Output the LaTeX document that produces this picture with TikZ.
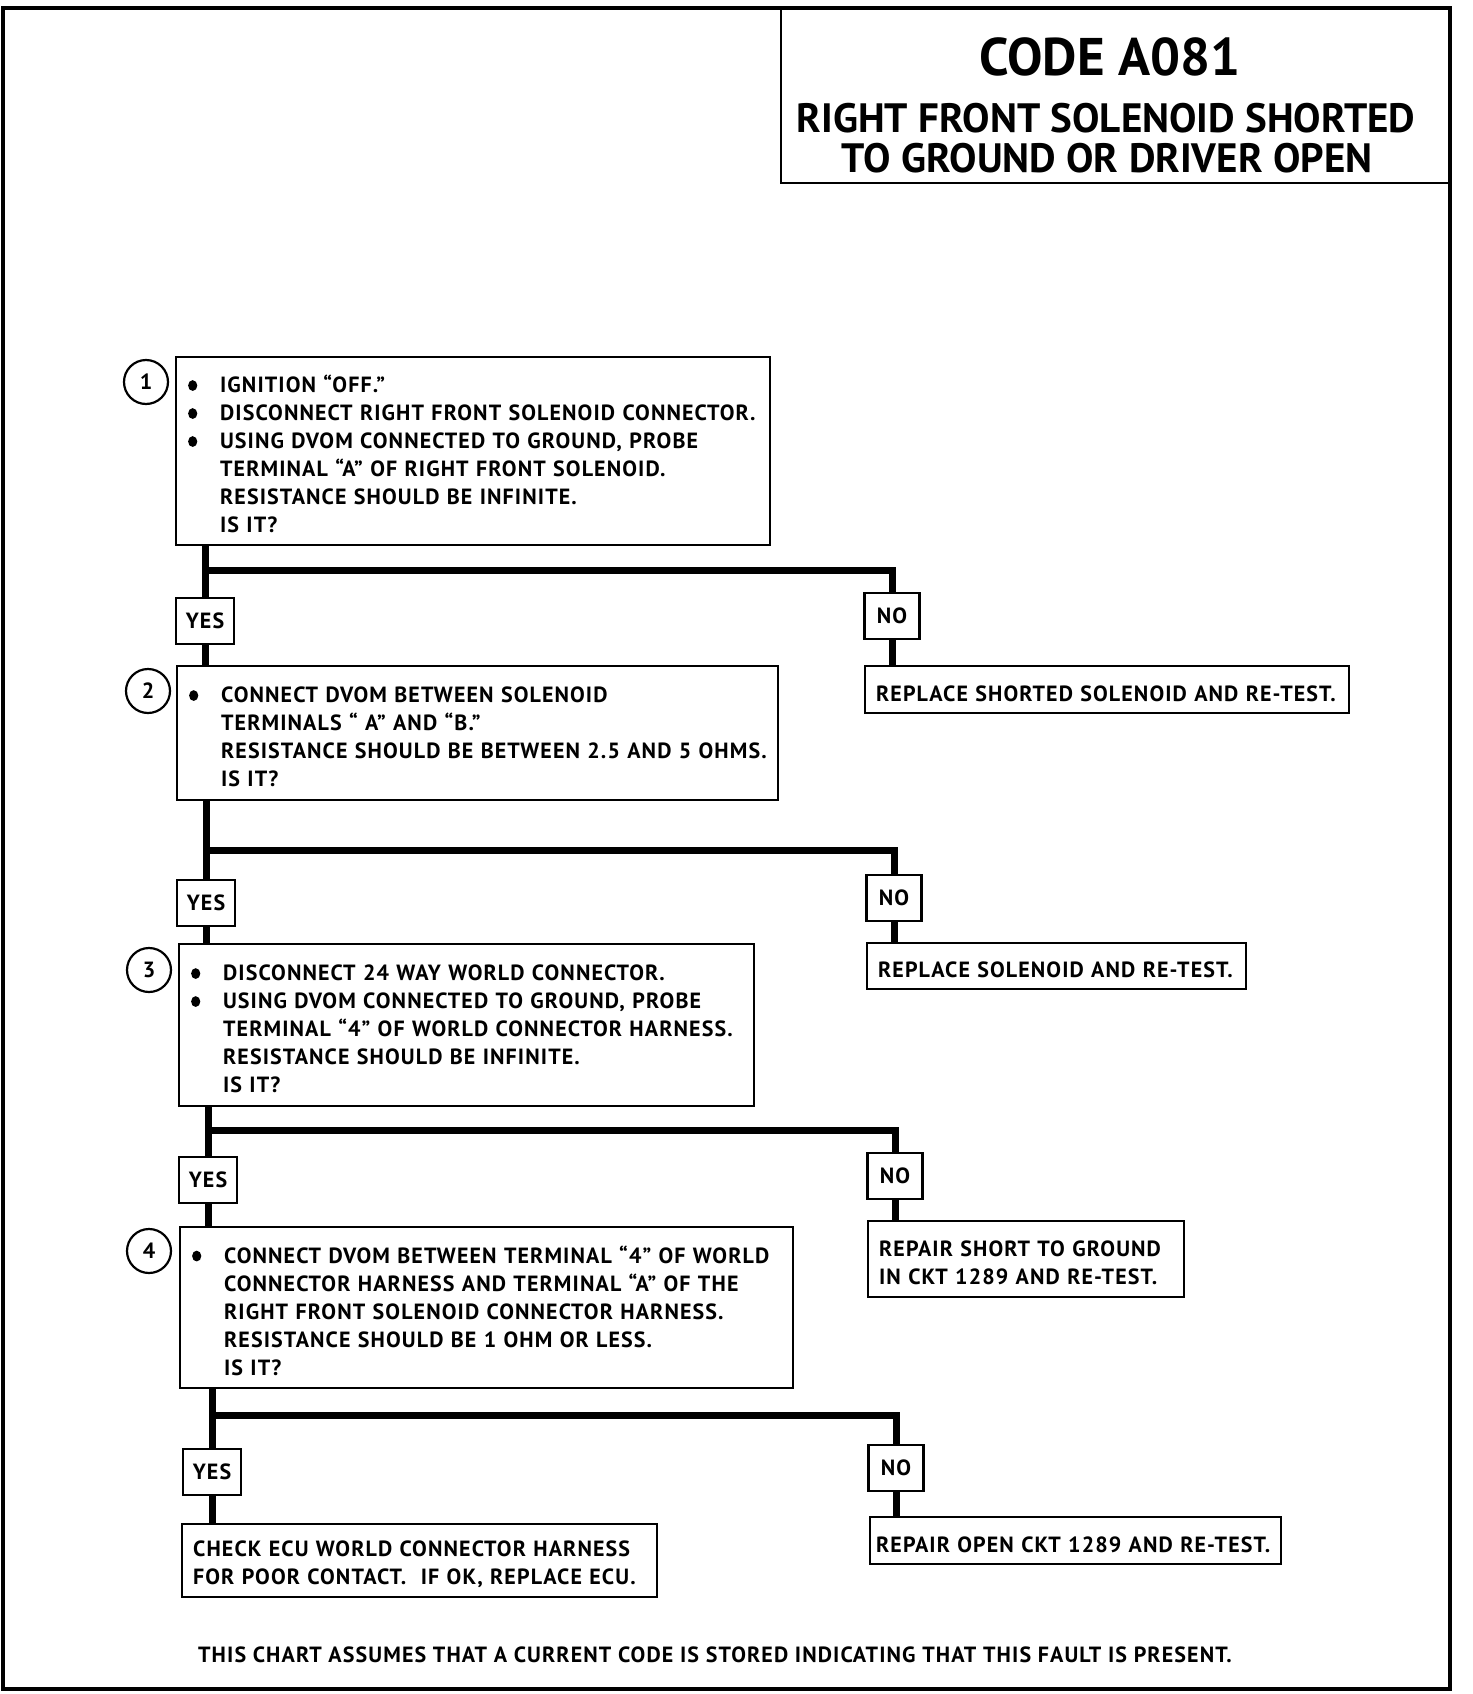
\documentclass[tikz,border=0pt]{standalone}
\usepackage{fontspec}
\setmainfont{PT Sans}
\newfontfamily\chartfont{PT Sans}[LetterSpace=5]
\usetikzlibrary{positioning}
\newcommand\itm{\makebox[33pt][l]{\hspace{1pt}\raisebox{2pt}{\tikz\fill (0,0) ellipse [x radius=4.6pt, y radius=5.4pt];}}}
\newcommand\ind{\hspace*{33pt}}

\begin{document}
\begin{tikzpicture}[x=1pt, y=-1pt,
  stepbox/.style={draw, line width=2.2pt, anchor=north west, align=left, inner xsep=11pt, inner ysep=4pt, font=\chartfont\bfseries\fontsize{22}{28}\selectfont, execute at begin node=\rule{0pt}{24pt}},
  stepnum/.style={draw, circle, line width=2.2pt, minimum size=44pt, inner sep=0pt, font=\bfseries\fontsize{22}{22}\selectfont},
  answer/.style={draw, line width=2.2pt, minimum height=46pt, minimum width=55pt, inner xsep=10pt, font=\chartfont\bfseries\fontsize{22}{22}\selectfont},
  link/.style={line width=7pt}]
\useasboundingbox (0,0) rectangle (1472,1694);
\draw[line width=4.5pt] (3,8) rectangle (1450,1689);

% title
\draw[line width=2.5pt] (781,8) rectangle (1450,183);
\node[anchor=base, font=\bfseries\fontsize{53}{53}\selectfont] (code) at (1110,75) {CODE A081};
\node[anchor=base, font=\bfseries\fontsize{41}{41}\selectfont] (head1) at (1106,132) {RIGHT FRONT SOLENOID SHORTED};
\node[anchor=base, font=\bfseries\fontsize{41}{41}\selectfont] (head2) at (1107,172) {TO GROUND OR DRIVER OPEN};

% step 1
\node[stepnum] (c1) at (146,382) {1};
\node[stepbox, text width=572pt, minimum height=188pt] (s1) at (175,356) {\itm IGNITION “OFF.”\\ \itm DISCONNECT RIGHT FRONT SOLENOID CONNECTOR.\\ \itm USING DVOM CONNECTED TO GROUND, PROBE\\ \ind TERMINAL “A” OF RIGHT FRONT SOLENOID.\\ \ind RESISTANCE SHOULD BE INFINITE.\\ \ind IS IT?};
\coordinate (j1) at (205,570);
\node[answer] (y1) at (205,621) {YES};
\node[answer] (n1) at (892,616) {NO};
\node[stepbox, text width=462pt, minimum height=47pt] (r1) at (864,665) {REPLACE SHORTED SOLENOID AND RE-TEST.};

% step 2
\node[stepnum] (c2) at (148,691) {2};
\node[stepbox, text width=579pt, minimum height=134pt] (s2) at (176,665) {\itm CONNECT DVOM BETWEEN SOLENOID\\ \ind TERMINALS “ A” AND “B.”\\ \ind RESISTANCE SHOULD BE BETWEEN 2.5 AND 5 OHMS.\\ \ind IS IT?};
\coordinate (j2) at (206,850);
\node[answer] (y2) at (206,903) {YES};
\node[answer] (n2) at (894,898) {NO};
\node[stepbox, text width=357pt, minimum height=46pt] (r2) at (866,942) {REPLACE SOLENOID AND RE-TEST.};

% step 3
\node[stepnum] (c3) at (149,970) {3};
\node[stepbox, text width=553pt, minimum height=162pt] (s3) at (178,943) {\itm DISCONNECT 24 WAY WORLD CONNECTOR.\\ \itm USING DVOM CONNECTED TO GROUND, PROBE\\ \ind TERMINAL “4” OF WORLD CONNECTOR HARNESS.\\ \ind RESISTANCE SHOULD BE INFINITE.\\ \ind IS IT?};
\coordinate (j3) at (208,1130);
\node[answer] (y3) at (208,1180) {YES};
\node[answer] (n3) at (895,1176) {NO};
\node[stepbox, text width=294pt, minimum height=76pt] (r3) at (867,1220) {REPAIR SHORT TO GROUND\\ IN CKT 1289 AND RE-TEST.};

% step 4
\node[stepnum] (c4) at (149,1251) {4};
\node[stepbox, text width=591pt, minimum height=161pt] (s4) at (179,1226) {\itm CONNECT DVOM BETWEEN TERMINAL “4” OF WORLD\\ \ind CONNECTOR HARNESS AND TERMINAL “A” OF THE\\ \ind RIGHT FRONT SOLENOID CONNECTOR HARNESS.\\ \ind RESISTANCE SHOULD BE 1 OHM OR LESS.\\ \ind IS IT?};
\coordinate (j4) at (212,1415);
\node[answer] (y4) at (212,1472) {YES};
\node[answer] (n4) at (896,1468) {NO};
\node[stepbox, text width=453pt, minimum height=73pt] (e4) at (181,1523) {CHECK ECU WORLD CONNECTOR HARNESS\\ FOR POOR CONTACT.\ \ IF OK, REPLACE ECU.};
\node[stepbox, text width=399pt, inner xsep=6pt, minimum height=47pt] (r4) at (869,1516) {\mbox{REPAIR OPEN CKT 1289 AND RE-TEST.}};

% connectors
\draw[link] (s1.south -| j1) -- (y1.north);
\draw[link] (j1) -| (n1.north);
\draw[link] (y1.south) -- (y1.south |- s2.north);
\draw[link] (n1.south) -- (n1.south |- r1.north);
\draw[link] (s2.south -| j2) -- (y2.north);
\draw[link] (j2) -| (n2.north);
\draw[link] (y2.south) -- (y2.south |- s3.north);
\draw[link] (n2.south) -- (n2.south |- r2.north);
\draw[link] (s3.south -| j3) -- (y3.north);
\draw[link] (j3) -| (n3.north);
\draw[link] (y3.south) -- (y3.south |- s4.north);
\draw[link] (n3.south) -- (n3.south |- r3.north);
\draw[link] (s4.south -| j4) -- (y4.north);
\draw[link] (j4) -| (n4.north);
\draw[link] (y4.south) -- (y4.south |- e4.north);
\draw[link] (n4.south) -- (n4.south |- r4.north);

\node[anchor=base, font=\chartfont\bfseries\fontsize{22}{22}\selectfont] (note) at (715,1662) {THIS CHART ASSUMES THAT A CURRENT CODE IS STORED INDICATING THAT THIS FAULT IS PRESENT.};
\end{tikzpicture}
\end{document}
